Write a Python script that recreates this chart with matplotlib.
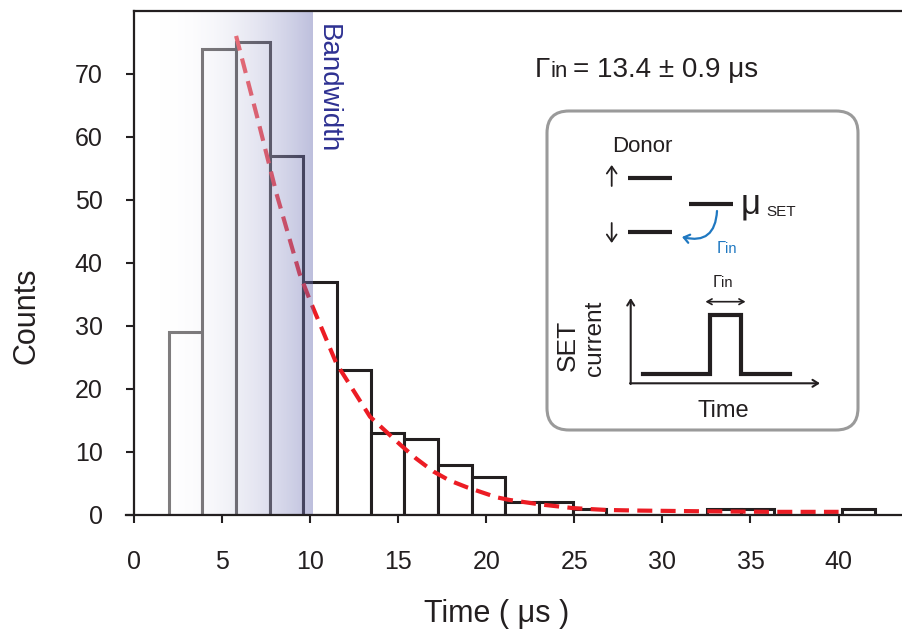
import numpy as np
import matplotlib
matplotlib.use("Agg")
import matplotlib.pyplot as plt
from matplotlib.patches import FancyBboxPatch, FancyArrowPatch

plt.rcParams['font.family'] = ['Liberation Sans', 'DejaVu Sans']

# ---------------- data ----------------
bin_edges = [1.98, 3.89, 5.80, 7.71, 9.62, 11.53, 13.44, 15.35, 17.26, 19.17,
             21.08, 22.99, 24.90, 26.81, 28.72, 30.63, 32.54, 34.45, 36.36,
             38.27, 40.18, 42.09]
counts = [29, 74, 75, 57, 37, 23, 13, 12, 8, 6, 2, 2, 1, 0, 0, 0, 1, 1, 0, 0, 1]

fit_t = [5.8, 7.0, 8.1, 9.4, 10.0, 11.5, 13.4, 15.1, 16.0, 17.0, 17.9, 18.9,
         20.6, 21.3, 23.0, 24.9, 26.8, 28.7, 32.0, 36.0, 40.0]
fit_y = [76.0, 63.1, 50.9, 38.3, 34.0, 24.0, 15.6, 11.2, 9.0, 6.9, 5.5, 4.4,
         2.8, 2.4, 1.7, 1.1, 0.8, 0.7, 0.6, 0.5, 0.5]

band_start = 1.5
bandwidth_us = 10.13

x_ticks = [0, 5, 10, 15, 20, 25, 30, 35, 40]
y_ticks = [0, 10, 20, 30, 40, 50, 60, 70]

rate_text = "= 13.4 \u00b1 0.9 \u03bcs"

# ---------------- figure ----------------
W, H = 902, 631
fig = plt.figure(figsize=(W / 100, H / 100), dpi=100)
ax = fig.add_axes([126 / W, 116 / H, (W - 126) / W, (620.3 - 116) / H])

black = '#231f20'
lefts = bin_edges[:-1]
widths = [b - a for a, b in zip(bin_edges[:-1], bin_edges[1:])]
ax.bar(lefts, counts, width=widths, align='edge', facecolor='white',
       edgecolor=black, linewidth=2.2, zorder=1)

ax.plot(fit_t, fit_y, color='#ec1c24', lw=3.0, dashes=(3.6, 2.0), zorder=2)

# bandwidth gradient band (drawn over bars, semi-transparent)
n = 256
g = np.linspace(0, 1, n) ** 2
c0 = np.array([1.0, 1.0, 1.0])
c1 = np.array([100, 104, 175]) / 255
rgba = np.zeros((1, n, 4))
rgba[0, :, :3] = c0[None, :] * (1 - g[:, None]) + c1[None, :] * g[:, None]
rgba[0, :, 3] = 0.42
ax.imshow(rgba, extent=[band_start, bandwidth_us, 0, 80], aspect='auto',
          interpolation='bilinear', zorder=2.2)

ax.text(11.0, 77.9, "Bandwidth", rotation=-90, ha='center', va='top',
        fontsize=20, color='#2e3192', zorder=3)

ax.set_xlim(-0.45, 43.6)
ax.set_ylim(0, 80)
ax.set_xticks(x_ticks)
ax.set_yticks(y_ticks)
ax.spines['right'].set_visible(False)
for s in ['left', 'bottom', 'top']:
    ax.spines[s].set_color(black)
    ax.spines[s].set_linewidth(1.6)
ax.spines['left'].set_position(('data', 0))
ax.spines['top'].set_bounds(0, 43.6)
ax.tick_params(axis='x', length=6, width=1.5, pad=19, labelsize=18, colors=black)
ax.tick_params(axis='y', length=6, width=1.5, pad=16.5, labelsize=18, colors=black)

fig.text(26 / W, 1 - 316 / H, "Counts", rotation=90, ha='center', va='center',
         fontsize=22, color=black)
fig.text(497 / W, 1 - 614 / H, "Time ( \u03bcs )", ha='center', va='center',
         fontsize=22, color=black)

# ---------------- overlay in pixel coordinates ----------------
ov = fig.add_axes([0, 0, 1, 1], zorder=5)
ov.set_xlim(0, W)
ov.set_ylim(H, 0)
ov.axis('off')
ov.patch.set_alpha(0)

# rate annotation
ov.text(535, 77, "\u0393", fontsize=20, ha='left', va='baseline', color=black)
ov.text(551, 77, "in", fontsize=16, ha='left', va='baseline', color=black)
ov.text(573, 77, rate_text, fontsize=20, ha='left', va='baseline', color=black)

# inset box
box = FancyBboxPatch((547, 111), 311, 319, boxstyle="round,pad=0,rounding_size=22",
                     facecolor='white', edgecolor='#9a9a9a', linewidth=2.2)
ov.add_patch(box)

ov.text(642.5, 151.5, "Donor", fontsize=16, ha='center', va='baseline', color=black)
ov.add_patch(FancyArrowPatch((611.7, 186), (611.7, 165),
                             arrowstyle="->,head_length=5,head_width=3.5",
                             color=black, lw=1.3, shrinkA=0, shrinkB=0))
ov.add_patch(FancyArrowPatch((611.7, 223), (611.7, 243),
                             arrowstyle="->,head_length=5,head_width=3.5",
                             color=black, lw=1.3, shrinkA=0, shrinkB=0))
ov.plot([628.3, 671.7], [178.3, 178.3], color=black, lw=3, solid_capstyle='butt')
ov.plot([628.3, 671.7], [231.7, 231.7], color=black, lw=3, solid_capstyle='butt')
ov.plot([689, 732.7], [204.3, 204.3], color=black, lw=3, solid_capstyle='butt')
ov.text(741, 214, "\u03bc", fontsize=25, ha='left', va='baseline', color=black)
ov.text(766.5, 216, "SET", fontsize=11, ha='left', va='baseline', color=black)

blue = '#1f78c1'
arr = FancyArrowPatch((717, 211), (682, 237), connectionstyle="arc3,rad=-0.6",
                      arrowstyle="->,head_length=4,head_width=3", color=blue,
                      lw=1.6, shrinkA=0, shrinkB=0)
ov.add_patch(arr)
ov.text(716.5, 253, "\u0393", fontsize=12, ha='left', va='baseline', color=blue)
ov.text(724.5, 253, "in", fontsize=10.5, ha='left', va='baseline', color=blue)

# pulse sketch
ov.add_patch(FancyArrowPatch((630.7, 384), (630.7, 298),
                             arrowstyle="->,head_length=4,head_width=2.5",
                             color=black, lw=1.5, shrinkA=0, shrinkB=0))
ov.add_patch(FancyArrowPatch((630, 383.3), (820, 383.3),
                             arrowstyle="->,head_length=4,head_width=2.5",
                             color=black, lw=1.5, shrinkA=0, shrinkB=0))
ov.plot([643.3, 710, 710, 741, 741, 790], [374, 374, 315, 315, 374, 374],
        color=black, lw=3, solid_joinstyle='miter')
ov.add_patch(FancyArrowPatch((705.5, 301.7), (745.5, 301.7),
                             arrowstyle="<->,head_length=3.5,head_width=2",
                             color=black, lw=1.2, shrinkA=0, shrinkB=0))
ov.text(713, 287, "\u0393", fontsize=12, ha='left', va='baseline', color=black)
ov.text(721, 287, "in", fontsize=10.5, ha='left', va='baseline', color=black)

ov.text(567.5, 345.8, "SET", rotation=90, fontsize=19, ha='center', va='center', color=black)
ov.text(595, 338.3, "current", rotation=90, fontsize=17.5, ha='center', va='center', color=black)
ov.text(723.3, 416.7, "Time", fontsize=17, ha='center', va='baseline', color=black)

fig.savefig("out.png", dpi=100)
